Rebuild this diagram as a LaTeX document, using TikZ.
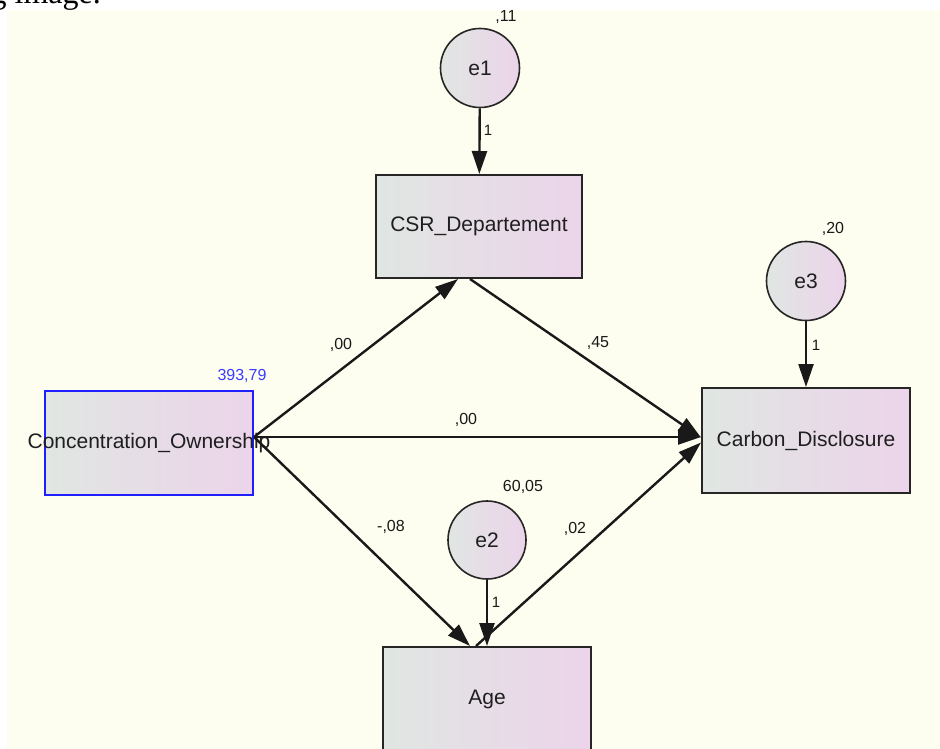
\documentclass[tikz,border=0pt]{standalone}
\usepackage{fontspec}
\setmainfont{Liberation Sans}
\newfontfamily\serifont{Liberation Serif}
\usetikzlibrary{arrows.meta,calc}
\definecolor{bg}{RGB}{253,254,240}
\definecolor{shL}{RGB}{224,230,226}
\definecolor{shR}{RGB}{236,212,234}
\definecolor{blueb}{RGB}{30,30,255}
\definecolor{numblue}{RGB}{60,60,255}
\begin{document}
\begin{tikzpicture}[x=1pt,y=-1pt,
 obs/.style={draw=black!85,line width=2pt,left color=shL,right color=shR,minimum width=206pt,minimum height=103pt,inner sep=0pt,font=\fontsize{21}{24}\selectfont,text=black!88},
 err/.style={circle,draw=black!85,line width=1.6pt,left color=shL,right color=shR,minimum size=79pt,inner sep=0pt,font=\fontsize{21}{24}\selectfont,text=black!88},
 lbl/.style={font=\fontsize{16}{18}\selectfont,inner sep=0pt,text=black!90},
 arr/.style={line width=2.4pt,draw=black!90,-{Triangle[length=23pt,width=15pt]}},
]
\useasboundingbox (0,0) rectangle (940,749);
\fill[white] (0,0) rectangle (940,749);
\fill[bg] (7,10) rectangle (940,749);
\begin{scope}
\clip (0,0) rectangle (940,749);
\node[anchor=base east,inner sep=0pt,font=\serifont\fontsize{32}{36}\selectfont] (cut) at (101,4) {g image.};
\end{scope}

% nodes
\node[obs] (csr) at (479,226.5) {CSR\_Departement};
\node[obs,minimum width=208pt,minimum height=105pt] (carbon) at (806,440.5) {Carbon\_Disclosure};
\node[obs,draw=blueb,minimum width=208pt,minimum height=104pt] (conc) at (149,443) {\makebox[0pt]{Concentration\_Ownership}};
\node[obs,minimum width=208pt,minimum height=105pt] (age) at (487,699.5) {Age};
\node[err] (e1) at (480,68) {e1};
\node[err] (e3) at (806,281) {e3};
\node[err,minimum size=78pt] (e2) at (487,540) {e2};

% anchor points
\coordinate (co) at ($(conc.east)+(0,-6)$);
\coordinate (csrin) at ($(csr.south)+(-21,0)$);
\coordinate (csrout) at ($(csr.south)+(-9,0)$);
\coordinate (agein) at ($(age.north)+(-17,0)$);
\coordinate (ageout) at ($(age.north)+(-11,0)$);
\coordinate (carbA) at ($(carbon.west)+(0,-3)$);
\coordinate (carbB) at ($(carbon.west)+(0,2)$);

% connectors
\draw[arr] (e1) -- (csr);
\draw[arr] (e3) -- (carbon);
\draw[arr] (e2) -- (age.north);
\draw[arr] (co) -- (csrin);
\draw[arr] (csrout) -- (carbA);
\draw[arr] (co) -- (co -| carbon.west);
\draw[arr] (co) -- (agein);
\draw[arr] (ageout) -- (carbB);

% labels
\node[lbl] (l11) at (506,17) {,11};
\node[lbl] (l20) at (833,229) {,20};
\node[lbl] (l6005) at (523,487) {60,05};
\node[lbl,text=numblue] (l393) at (242,376) {393,79};
\node[lbl,font=\fontsize{15}{17}\selectfont] (one1) at (488,130) {1};
\node[lbl,font=\fontsize{15}{17}\selectfont] (one3) at (816,345) {1};
\node[lbl,font=\fontsize{15}{17}\selectfont] (one2) at (496,602) {1};
\node[lbl] (p1) at (341,345) {,00};
\node[lbl] (p2) at (598,343) {,45};
\node[lbl] (p3) at (466,420) {,00};
\node[lbl] (p4) at (391,527) {-,08};
\node[lbl] (p5) at (575,529) {,02};
\end{tikzpicture}
\end{document}
